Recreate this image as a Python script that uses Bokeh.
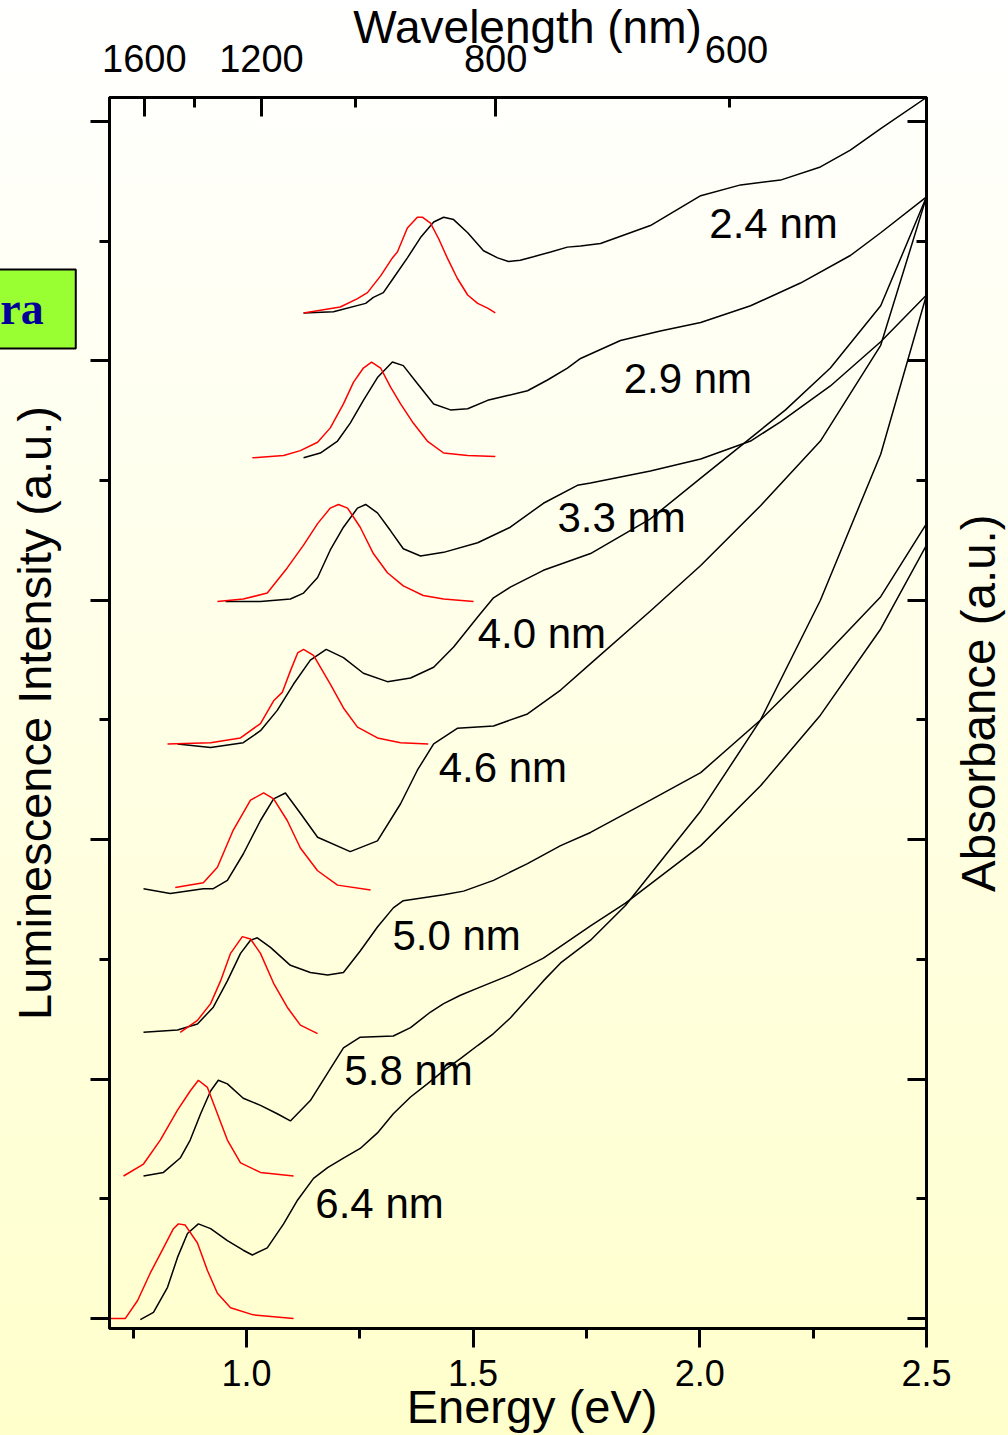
import math
from bokeh.plotting import figure
from bokeh.models import LinearAxis, FixedTicker, Label, Range1d, PrintfTickFormatter, CustomJSTickFormatter
from bokeh.embed import file_html
from bokeh.resources import INLINE

FONT = "Liberation Sans"
HC = 1239.84  # eV*nm

# ---------------- data (energy in eV, intensity / absorbance in a.u.) ----------------
sizes = ["2.4 nm", "2.9 nm", "3.3 nm", "4.0 nm", "4.6 nm", "5.0 nm", "5.8 nm", "6.4 nm"]

abs24_E = [1.126, 1.192, 1.263, 1.280, 1.302, 1.324, 1.355, 1.384, 1.413, 1.435, 1.457, 1.488, 1.523, 1.554, 1.578,
           1.604, 1.633, 1.671, 1.708, 1.737, 1.781, 1.891, 2.002, 2.090, 2.178, 2.266, 2.332, 2.399, 2.500]
abs24_A = [8.40, 8.41, 8.48, 8.53, 8.57, 8.69, 8.86, 9.03, 9.16, 9.20, 9.18, 9.07, 8.92, 8.86, 8.83,
           8.84, 8.87, 8.91, 8.95, 8.96, 8.98, 9.13, 9.38, 9.47, 9.51, 9.62, 9.76, 9.94, 10.20]
pl24_E = [1.126, 1.207, 1.245, 1.267, 1.296, 1.322, 1.333, 1.355, 1.377, 1.388, 1.406, 1.424, 1.443, 1.465, 1.488, 1.510, 1.532, 1.549]
pl24_I = [8.40, 8.45, 8.52, 8.57, 8.71, 8.86, 8.91, 9.11, 9.20, 9.20, 9.15, 9.02, 8.86, 8.69, 8.55, 8.48, 8.44, 8.40]

abs29_E = [1.126, 1.163, 1.201, 1.229, 1.258, 1.289, 1.322, 1.346, 1.377, 1.413, 1.450, 1.488, 1.532, 1.576, 1.620,
           1.664, 1.708, 1.737, 1.825, 1.913, 2.002, 2.112, 2.222, 2.332, 2.399, 2.500]
abs29_A = [7.19, 7.23, 7.33, 7.48, 7.67, 7.86, 7.99, 7.96, 7.81, 7.64, 7.59, 7.60, 7.67, 7.71, 7.75,
           7.84, 7.94, 8.02, 8.17, 8.25, 8.32, 8.46, 8.65, 8.88, 9.07, 9.37]
pl29_E = [1.013, 1.082, 1.119, 1.157, 1.185, 1.214, 1.236, 1.258, 1.276, 1.296, 1.318, 1.340, 1.368, 1.399, 1.435, 1.488, 1.549]
pl29_I = [7.19, 7.21, 7.25, 7.32, 7.44, 7.64, 7.82, 7.94, 7.99, 7.94, 7.78, 7.64, 7.48, 7.33, 7.23, 7.21, 7.20]

abs33_E = [0.954, 1.031, 1.097, 1.126, 1.157, 1.185, 1.214, 1.245, 1.263, 1.289, 1.318, 1.346, 1.384, 1.435, 1.510,
           1.582, 1.655, 1.730, 1.759, 1.891, 2.002, 2.112, 2.178, 2.288, 2.399, 2.500]
abs33_A = [5.99, 5.99, 6.01, 6.06, 6.19, 6.42, 6.61, 6.77, 6.80, 6.73, 6.58, 6.43, 6.37, 6.40, 6.48,
           6.61, 6.81, 6.96, 6.98, 7.08, 7.18, 7.33, 7.49, 7.79, 8.16, 8.55]
pl33_E = [0.936, 0.993, 1.046, 1.090, 1.126, 1.157, 1.185, 1.203, 1.223, 1.251, 1.280, 1.311, 1.346, 1.390, 1.435, 1.501]
pl33_I = [5.99, 6.01, 6.06, 6.27, 6.46, 6.64, 6.77, 6.80, 6.77, 6.61, 6.39, 6.23, 6.12, 6.04, 6.01, 5.99]

abs40_E = [0.848, 0.921, 0.993, 1.031, 1.068, 1.104, 1.141, 1.176, 1.214, 1.258, 1.311, 1.362, 1.413, 1.457, 1.510,
           1.545, 1.582, 1.655, 1.759, 1.891, 2.002, 2.189, 2.288, 2.399, 2.500]
abs40_A = [4.80, 4.77, 4.81, 4.91, 5.08, 5.30, 5.50, 5.59, 5.52, 5.39, 5.32, 5.35, 5.44, 5.61, 5.86,
           6.02, 6.11, 6.25, 6.39, 6.68, 7.02, 7.59, 7.94, 8.46, 9.37]
pl40_E = [0.826, 0.921, 0.987, 1.031, 1.060, 1.079, 1.097, 1.113, 1.126, 1.148, 1.185, 1.214, 1.245, 1.289, 1.340, 1.401]
pl40_I = [4.80, 4.81, 4.85, 4.97, 5.16, 5.23, 5.41, 5.56, 5.59, 5.54, 5.30, 5.10, 4.94, 4.85, 4.81, 4.80]

abs46_E = [0.773, 0.832, 0.905, 0.927, 0.958, 0.993, 1.031, 1.060, 1.086, 1.119, 1.157, 1.229, 1.289, 1.340, 1.377,
           1.413, 1.465, 1.545, 1.620, 1.693, 1.759, 1.891, 2.002, 2.134, 2.266, 2.399, 2.500]
abs46_A = [3.59, 3.55, 3.59, 3.59, 3.66, 3.88, 4.16, 4.34, 4.39, 4.22, 4.02, 3.90, 3.99, 4.30, 4.58,
           4.80, 4.93, 4.95, 5.05, 5.25, 5.47, 5.91, 6.29, 6.79, 7.33, 8.13, 9.37]
pl46_E = [0.843, 0.905, 0.936, 0.971, 1.009, 1.038, 1.060, 1.090, 1.119, 1.157, 1.201, 1.274]
pl46_I = [3.60, 3.64, 3.77, 4.08, 4.33, 4.39, 4.34, 4.16, 3.93, 3.74, 3.62, 3.58]

abs50_E = [0.773, 0.848, 0.892, 0.927, 0.958, 0.987, 1.009, 1.024, 1.053, 1.097, 1.141, 1.179, 1.214, 1.251, 1.289,
           1.324, 1.346, 1.435, 1.479, 1.545, 1.620, 1.693, 1.759, 1.891, 2.002, 2.134, 2.266, 2.399, 2.500]
abs50_A = [2.39, 2.41, 2.46, 2.60, 2.82, 3.05, 3.16, 3.18, 3.10, 2.95, 2.89, 2.87, 2.89, 3.07, 3.27,
           3.43, 3.49, 3.54, 3.57, 3.66, 3.80, 3.95, 4.06, 4.33, 4.56, 5.00, 5.50, 6.03, 6.64]
pl50_E = [0.854, 0.892, 0.921, 0.943, 0.965, 0.991, 1.009, 1.031, 1.060, 1.090, 1.119, 1.157]
pl50_I = [2.39, 2.49, 2.63, 2.82, 3.05, 3.19, 3.17, 3.05, 2.80, 2.60, 2.45, 2.38]

abs58_E = [0.773, 0.817, 0.854, 0.876, 0.899, 0.921, 0.938, 0.958, 0.993, 1.031, 1.068, 1.097, 1.141, 1.179, 1.214,
           1.251, 1.324, 1.362, 1.406, 1.435, 1.472, 1.510, 1.582, 1.655, 1.759, 1.836, 2.002, 2.134, 2.266, 2.399, 2.500]
abs58_A = [1.19, 1.22, 1.34, 1.49, 1.71, 1.90, 1.99, 1.96, 1.84, 1.78, 1.71, 1.65, 1.82, 2.05, 2.26,
           2.35, 2.36, 2.43, 2.56, 2.63, 2.70, 2.76, 2.87, 3.01, 3.28, 3.47, 3.95, 4.45, 5.04, 5.76, 6.46]
pl58_E = [0.729, 0.773, 0.810, 0.848, 0.876, 0.894, 0.914, 0.936, 0.958, 0.987, 1.031, 1.104]
pl58_I = [1.19, 1.29, 1.49, 1.74, 1.90, 1.99, 1.93, 1.71, 1.49, 1.30, 1.22, 1.19]

abs64_E = [0.766, 0.795, 0.826, 0.848, 0.870, 0.894, 0.921, 0.958, 0.993, 1.013, 1.046, 1.082, 1.113, 1.148, 1.179,
           1.214, 1.251, 1.289, 1.324, 1.362, 1.399, 1.435, 1.472, 1.510, 1.545, 1.582, 1.620, 1.655, 1.693, 1.759,
           1.836, 2.002, 2.134, 2.266, 2.399, 2.500]
abs64_A = [-0.01, 0.05, 0.26, 0.51, 0.71, 0.79, 0.75, 0.65, 0.57, 0.53, 0.59, 0.79, 0.99, 1.17, 1.26,
           1.34, 1.42, 1.55, 1.71, 1.85, 1.96, 2.07, 2.17, 2.28, 2.38, 2.51, 2.67, 2.82, 2.97, 3.16,
           3.45, 4.24, 5.00, 6.00, 7.22, 8.55]
pl64_E = [0.700, 0.733, 0.760, 0.788, 0.817, 0.839, 0.850, 0.865, 0.892, 0.914, 0.936, 0.965, 1.015, 1.104]
pl64_I = [0.00, 0.00, 0.15, 0.38, 0.59, 0.75, 0.79, 0.78, 0.63, 0.40, 0.21, 0.09, 0.03, 0.00]

# curve label anchors (eV, a.u.)
label_E = [2.021, 1.832, 1.686, 1.510, 1.424, 1.322, 1.216, 1.152]
label_A = [9.15, 7.85, 6.69, 5.72, 4.60, 3.20, 2.07, 0.96]

# axis ticks
energy_ticks = [1.0, 1.5, 2.0, 2.5]
energy_minor = [0.75, 1.25, 1.75, 2.25]
wl_major = [1600, 1200, 800]
wl_minor = [1400, 1000, 600]
y_major = [0, 2, 4, 6, 8, 10]
y_minor = [1, 3, 5, 7, 9]

absorb = [(abs24_E, abs24_A), (abs29_E, abs29_A), (abs33_E, abs33_A), (abs40_E, abs40_A),
          (abs46_E, abs46_A), (abs50_E, abs50_A), (abs58_E, abs58_A), (abs64_E, abs64_A)]
lumin = [(pl24_E, pl24_I), (pl29_E, pl29_I), (pl33_E, pl33_I), (pl40_E, pl40_I),
         (pl46_E, pl46_I), (pl50_E, pl50_I), (pl58_E, pl58_I), (pl64_E, pl64_I)]

# ---------------- figure ----------------
# extra border room on the left/top (for annotations placed in side panels),
# compensated by shifting the whole plot element with negative margins
SHIFT_X = 100
SHIFT_Y = 140

p = figure(frame_width=817, frame_height=1231,
           x_range=Range1d(0.698, 2.5), y_range=Range1d(-0.084, 10.2),
           x_axis_location=None, y_axis_location=None,
           toolbar_location=None, output_backend="svg",
           min_border_left=109 + SHIFT_X, min_border_right=82,
           min_border_top=97 + SHIFT_Y, min_border_bottom=107)
p.grid.visible = False
p.background_fill_color = None
p.border_fill_color = None
p.outline_line_color = "black"
p.outline_line_width = 3
p.styles = {
    "margin-left": f"-{SHIFT_X}px",
    "margin-top": f"-{SHIFT_Y}px",
    "background": f"linear-gradient(to bottom, #ffffff {SHIFT_Y}px, #ffffcc 100%)",
}

for E, A in absorb:
    p.line(E, A, line_color="black", line_width=1.5)
for E, I in lumin:
    p.line(E, I, line_color="#ff0000", line_width=1.5)


def style_axis(ax):
    ax.axis_line_width = 3
    ax.major_tick_line_width = 3
    ax.minor_tick_line_width = 3
    ax.major_label_text_font = FONT
    ax.major_label_text_color = "black"


blank = CustomJSTickFormatter(code="return '';")

bottom = LinearAxis(ticker=FixedTicker(ticks=energy_ticks, minor_ticks=energy_minor),
                    formatter=PrintfTickFormatter(format="%.1f"))
style_axis(bottom)
bottom.major_tick_out = 19
bottom.major_tick_in = 0
bottom.minor_tick_out = 10
bottom.minor_tick_in = 0
bottom.major_label_text_font_size = "36px"
bottom.major_label_standoff = 12
p.add_layout(bottom, "below")

top = LinearAxis(ticker=FixedTicker(ticks=[HC / w for w in wl_major], minor_ticks=[HC / w for w in wl_minor]),
                 formatter=CustomJSTickFormatter(code="return Math.round(1239.84 / tick).toString();"))
style_axis(top)
top.major_tick_out = 0
top.major_tick_in = 19
top.minor_tick_out = 0
top.minor_tick_in = 10
top.major_label_text_font_size = "38px"
top.major_label_standoff = 26
p.add_layout(top, "above")

left = LinearAxis(ticker=FixedTicker(ticks=y_major, minor_ticks=y_minor), formatter=blank)
style_axis(left)
left.major_tick_out = 19
left.major_tick_in = 0
left.minor_tick_out = 10
left.minor_tick_in = 0
left.major_label_standoff = 0
left.axis_label = "Luminescence Intensity (a.u.)"
left.axis_label_text_font = FONT
left.axis_label_text_font_style = "normal"
left.axis_label_text_font_size = "47px"
left.axis_label_text_color = "black"
left.axis_label_standoff = 30
p.add_layout(left, "left")

right = LinearAxis(ticker=FixedTicker(ticks=y_major, minor_ticks=y_minor), formatter=blank)
style_axis(right)
right.major_tick_out = 0
right.major_tick_in = 19
right.minor_tick_out = 0
right.minor_tick_in = 10
right.major_label_standoff = 0
p.add_layout(right, "right")

# curve labels (inside the frame)
for s, e, a in zip(sizes, label_E, label_A):
    p.add_layout(Label(x=e, y=a, text=s, text_font=FONT, text_font_size="42px", text_color="black",
                       text_align="left", text_baseline="middle"))

# texts outside the frame: placed in side panels (not clipped), positioned in data units
p.add_layout(Label(x=2.614, y=5.14, text="Absorbance (a.u.)", text_font=FONT, text_font_size="47.5px",
                   text_color="black", text_align="center", text_baseline="middle", angle=math.pi / 2), "right")
p.add_layout(Label(x=1.620, y=10.793, text="Wavelength (nm)", text_font=FONT, text_font_size="46px",
                   text_color="black", text_align="center", text_baseline="middle"), "above")
p.add_layout(Label(x=2.081, y=10.60, text="600", text_font=FONT, text_font_size="38px",
                   text_color="black", text_align="center", text_baseline="middle"), "above")
p.add_layout(Label(x=1.630, y=-0.735, text="Energy (eV)", text_font=FONT, text_font_size="47px",
                   text_color="black", text_align="center", text_baseline="middle"), "above")
p.add_layout(Label(x=0.4308, y=8.434, text="ra",
                   text_font="Liberation Serif", text_font_style="bold", text_font_size="46px",
                   text_color="#000099", text_align="left", text_baseline="middle",
                   background_fill_color="#99ff33", border_line_color="black", border_line_width=2,
                   padding=dict(left=12, right=32, top=14, bottom=14)), "left")

open("out.html", "w").write(file_html(p, INLINE))
